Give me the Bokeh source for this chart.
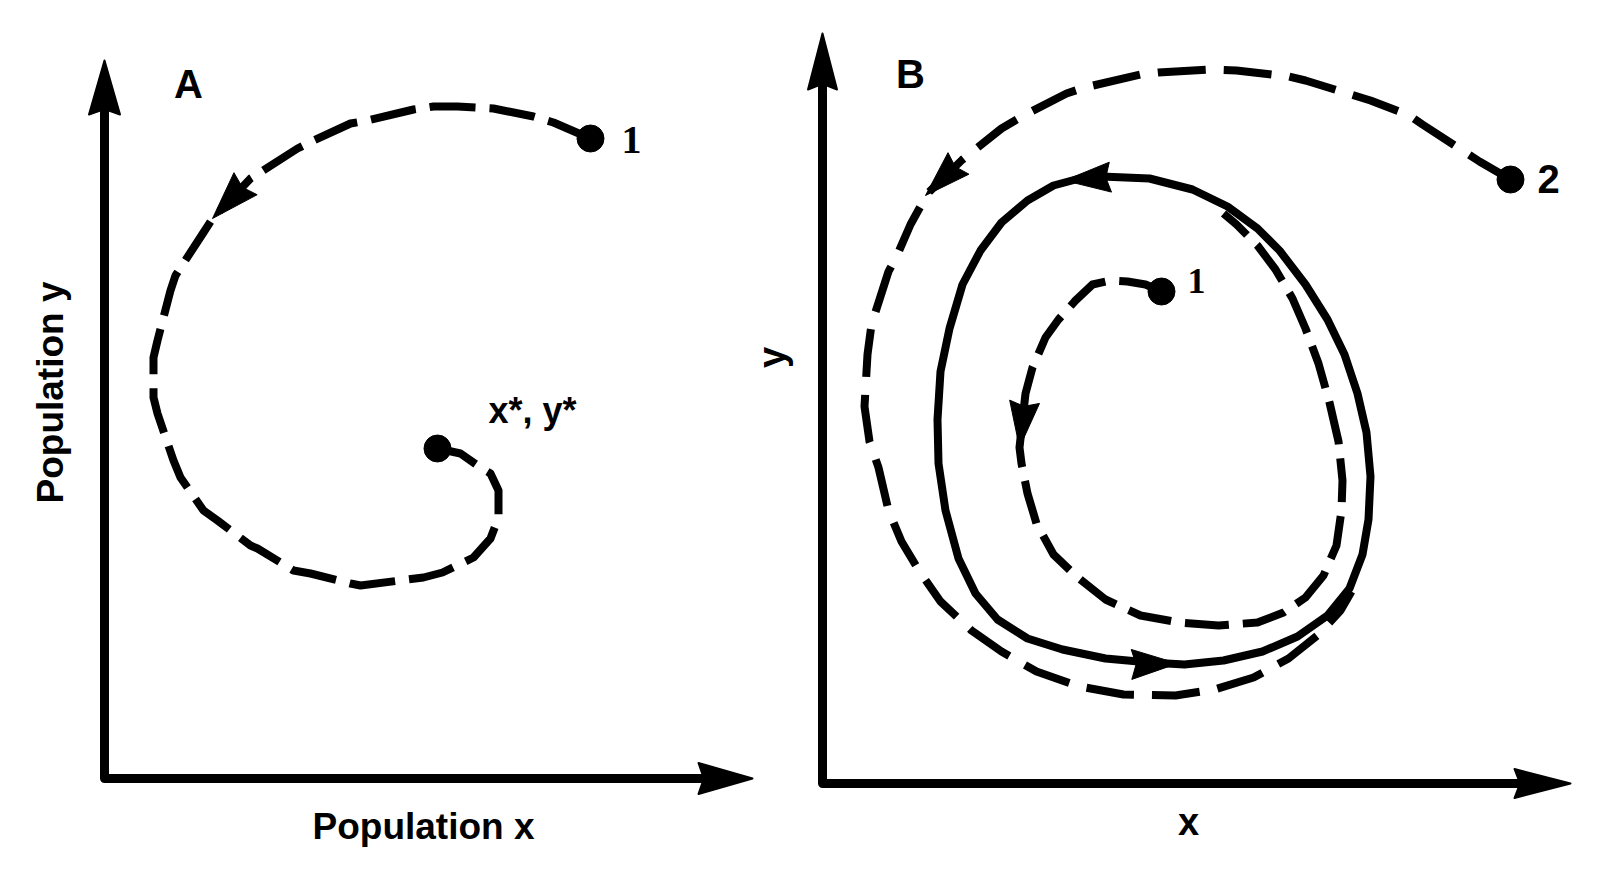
import math
from bokeh.plotting import figure
from bokeh.models import Range1d, Label
from bokeh.embed import file_html
from bokeh.resources import INLINE

# ---------------- data (arbitrary population units) -------------
# Panel A : damped oscillation towards the equilibrium x*, y*
a_axis_x_len = 648
a_axis_y_len = 718
a_spiral_x = [486, 449, 429, 389, 353, 329, 309, 263, 246, 209, 193, 154, 146, 108, 99, 71, 66, 53, 49, 49,
              53, 69, 76, 99, 113, 146, 153, 189, 206, 246, 256, 319, 338, 369, 386, 394, 394, 386, 376, 356, 333]
a_spiral_y = [640, 656, 662, 670, 672, 672, 669, 658, 655, 638, 630, 605, 600, 560, 546, 503, 488, 438, 421, 381,
              365, 318, 301, 268, 258, 233, 230, 208, 205, 195, 193, 201, 206, 221, 240, 261, 288, 305, 311, 325, 330]
a_points_x = [486, 333]
a_points_y = [640, 330]
a_point_labels = ["1", "x*, y*"]
a_arrow_tip = [(108, 560)]
a_arrow_from = [(146, 600)]

# Panel B : stable limit cycle approached from inside (1) and outside (2)
b_axis_x_len = 748
b_axis_y_len = 750
b_outer_x = [688, 657, 640, 600, 587, 548, 535, 483, 466, 414, 388, 336, 318, 262, 244, 201, 179, 140, 105, 88,
             75, 66, 49, 45, 42, 47, 56, 66, 79, 97, 118, 149, 179, 214, 257, 301, 353, 392, 431, 466,
             496, 518, 529]
b_outer_y = [604, 622, 633, 659, 668, 683, 687, 703, 707, 713, 714, 711, 709, 696, 690, 668, 655, 624, 590, 559,
             529, 512, 459, 429, 377, 342, 316, 273, 242, 212, 182, 153, 132, 112, 97, 89, 88, 94, 106, 125,
             149, 173, 192]
b_cycle_x = [279, 327, 370, 405, 435, 457, 483, 505, 522, 535, 544, 548, 546, 540, 527, 505, 475, 440, 401, 362,
             327, 283, 240, 205, 175, 153, 136, 123, 116, 115, 118, 127, 140, 158, 179, 205, 231, 257, 279]
b_cycle_y = [607, 605, 594, 577, 555, 533, 499, 464, 429, 390, 351, 307, 264, 229, 195, 168, 147, 132, 123, 119,
             121, 125, 134, 145, 164, 190, 225, 273, 320, 364, 412, 455, 499, 533, 561, 583, 598, 605, 607]
b_inner_x = [339, 323, 305, 288, 270, 253, 236, 223, 210, 203, 197, 199, 205, 214, 231, 253, 283, 318, 357, 396,
             435, 461, 483, 501, 514, 519, 520, 516, 507, 496, 483, 470, 453, 435, 414, 401]
b_inner_y = [492, 499, 502, 503, 499, 483, 464, 446, 416, 390, 336, 320, 290, 260, 229, 208, 184, 168, 161, 158,
             161, 171, 186, 208, 238, 273, 303, 342, 381, 420, 455, 485, 514, 538, 559, 570]
b_points_x = [688, 339]
b_points_y = [604, 492]
b_point_labels = ["2", "1"]
b_arrow_tip = [(103, 588), (197, 336), (242, 603), (355, 120)]
b_arrow_from = [(140, 624), (203, 390), (283, 606), (305, 119)]

# ---------------- style ----------------
FONT = "Liberation Sans"
SERIF = "Liberation Serif"
INK = "black"
AXIS_W = 9
CURVE_W = 8
DOT = 27
BASE_K = 0.35   # label anchor correction (fraction of font size)
W, H = 1596, 866
A_ORIGIN = (104, 778)   # page position of panel A origin
B_ORIGIN = (822, 783)   # page position of panel B origin


def head(tip, frm, length, width, notch=0.9):
    tx, ty = tip
    dx, dy = tx - frm[0], ty - frm[1]
    n = math.hypot(dx, dy)
    ux, uy = dx / n, dy / n
    px, py = -uy, ux
    bx, by = tx - ux * length, ty - uy * length
    nx, ny = tx - ux * length * notch, ty - uy * length * notch
    xs = [tx, bx + px * width / 2, nx, bx - px * width / 2]
    ys = [ty, by + py * width / 2, ny, by - py * width / 2]
    return xs, ys


p = figure(width=W, height=H,
           x_range=Range1d(-A_ORIGIN[0], W - A_ORIGIN[0]),
           y_range=Range1d(A_ORIGIN[1] - H, A_ORIGIN[1]),
           x_axis_type=None, y_axis_type=None, output_backend="svg",
           toolbar_location=None, min_border=0)
p.extra_x_ranges = {"bx": Range1d(-B_ORIGIN[0], W - B_ORIGIN[0])}
p.extra_y_ranges = {"by": Range1d(B_ORIGIN[1] - H, B_ORIGIN[1])}
p.grid.visible = False
p.outline_line_color = None
p.background_fill_color = "white"
p.border_fill_color = "white"

RA = dict(x_range_name="default", y_range_name="default")
RB = dict(x_range_name="bx", y_range_name="by")


def draw_axes(rng, xlen, ylen, hl, hw):
    p.line([0, 0, xlen - hl + 8], [ylen - hl + 8, 0, 0], line_width=AXIS_W, color=INK,
           line_join="round", **rng)
    hx1, hy1 = head((xlen, 0), (0, 0), hl, hw)
    hx2, hy2 = head((0, ylen), (0, 0), hl, hw)
    p.patches([hx1, hx2], [hy1, hy2], fill_color=INK, line_color=INK, line_width=2,
              line_join="round", **rng)


def arrows(rng, tips, froms, hl, hw):
    xs, ys = [], []
    for t, f in zip(tips, froms):
        hx, hy = head(t, f, hl, hw)
        xs.append(hx)
        ys.append(hy)
    p.patches(xs, ys, fill_color=INK, line_color=INK, line_join="round", **rng)


def lab(rng, x, y, text, size, align="center", rotated=False, font=FONT, style="bold"):
    k = BASE_K * size
    if rotated:
        x, y, angle = x - k, y, math.pi / 2
    else:
        x, y, angle = x, y + k, 0.0
    p.add_layout(Label(x=x, y=y, text=text, text_font=font, text_font_size=f"{size}px",
                       text_align=align, text_baseline="alphabetic", angle=angle,
                       text_color=INK, text_font_style=style, **rng))


# ---------------- panel A ----------------
draw_axes(RA, a_axis_x_len, a_axis_y_len, 54, 31)
p.line(a_spiral_x, a_spiral_y, line_width=CURVE_W, color=INK, line_dash="46 14", line_join="round", **RA)
arrows(RA, a_arrow_tip, a_arrow_from, 48, 32)
p.scatter(a_points_x, a_points_y, size=DOT, color=INK, **RA)
lab(RA, 84, 681, "A", 40)
lab(RA, 527, 625, a_point_labels[0], 40, font=SERIF)
lab(RA, 384, 355, a_point_labels[1], 36, align="left")
lab(RA, 319, -61, "Population x", 37)
lab(RA, -41, 386, "Population y", 37, rotated=True)

# ---------------- panel B ----------------
draw_axes(RB, b_axis_x_len, b_axis_y_len, 56, 29)
p.line(b_outer_x, b_outer_y, line_width=CURVE_W, color=INK, line_dash="48 18", line_join="round", **RB)
p.line(b_inner_x, b_inner_y, line_width=CURVE_W, color=INK, line_dash="44 14", line_join="round", **RB)
p.line(b_cycle_x, b_cycle_y, line_width=CURVE_W, color=INK, line_join="round", **RB)
arrows(RB, b_arrow_tip, b_arrow_from, 46, 30)
p.scatter(b_points_x, b_points_y, size=DOT, color=INK, **RB)
lab(RB, 88, 696, "B", 40)
lab(RB, 726, 591, b_point_labels[0], 40)
lab(RB, 374, 490, b_point_labels[1], 36, font=SERIF)
lab(RB, 366, -52, "x", 38)
lab(RB, -37, 426, "y", 38, rotated=True)

open("out.html", "w").write(file_html(p, INLINE))
